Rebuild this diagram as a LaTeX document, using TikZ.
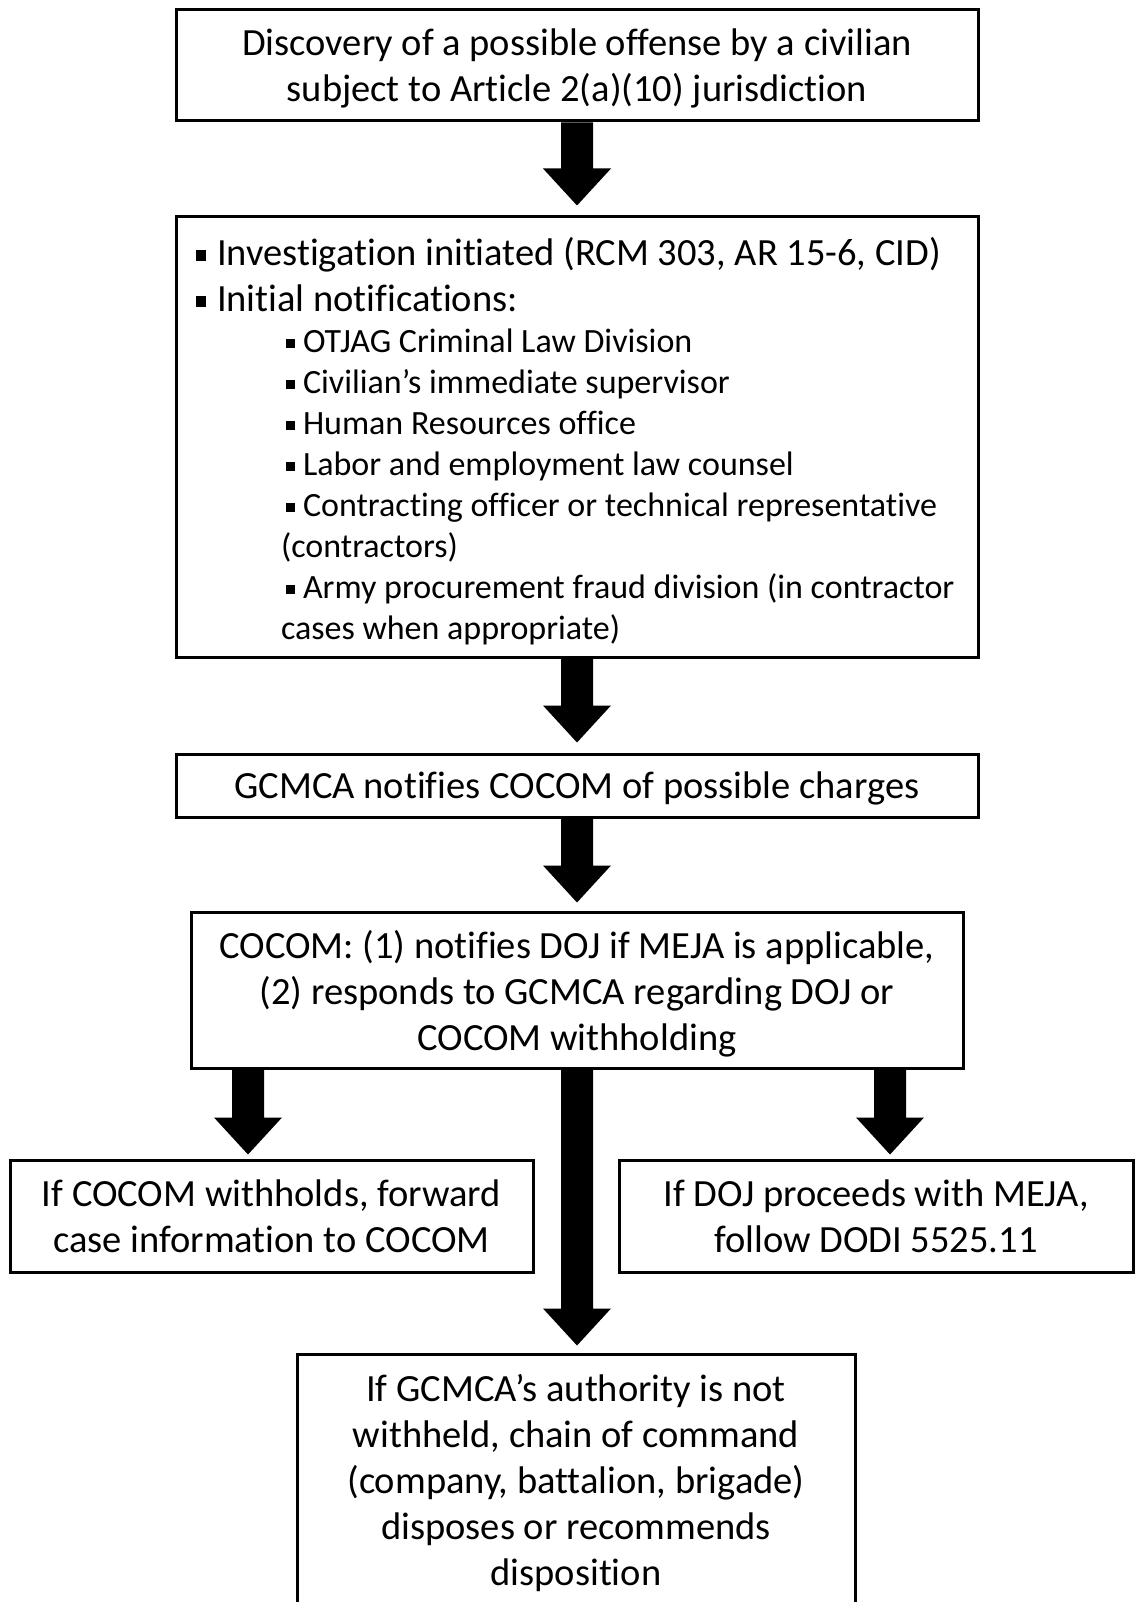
\documentclass[tikz,border=0pt]{standalone}
\usepackage{fontspec}
\setmainfont[Ligatures={NoCommon}]{Carlito}
\usetikzlibrary{calc}
\newcommand\mbul{\raisebox{0.12em}{\rule{0.27em}{0.27em}}}
% #1 = x of arrow, #2 = source anchor, #3 = target anchor, #4 = gap before target
\newcommand\fatarrow[4]{%
  \fill let \p1=(#2), \p2=(#3) in
   (#1pt-16pt,\y1) -- (#1pt+16pt,\y1) -- (#1pt+16pt,\y2+#4pt+37pt)
   -- (#1pt+34pt,\y2+#4pt+37pt) -- (#1pt,\y2+#4pt) -- (#1pt-34pt,\y2+#4pt+37pt)
   -- (#1pt-16pt,\y2+#4pt+37pt) -- cycle;}
\begin{document}
\begin{tikzpicture}[x=1pt,y=-1pt,
  boxbase/.style={draw, line width=3pt, inner sep=0pt, align=center,
    font=\fontsize{38.5pt}{46pt}\selectfont},
  box/.style={boxbase, text depth=0pt}]
\useasboundingbox (0,0) rectangle (1135,1602);
\node[box, minimum width=802pt, minimum height=111pt] (b1) at (577,65.5)
  {Discovery of a possible offense by a civilian\\subject to Article 2(a)(10) jurisdiction};
\node[boxbase, align=left, minimum width=802pt, minimum height=440pt] (b2) at (577,437)
  {\begin{minipage}{762pt}\parindent=0pt
   \vspace*{8pt}
   \fontsize{38.5pt}{46pt}\selectfont
   \makebox[21pt][l]{\mbul}Investigation initiated (RCM 303, AR 15-6, CID)\par
   \makebox[21pt][l]{\mbul}Initial notifications:\par
   \fontsize{34pt}{41pt}\selectfont
   \hspace*{90pt}\makebox[17pt][l]{\mbul}OTJAG Criminal Law Division\par
   \hspace*{90pt}\makebox[17pt][l]{\mbul}Civilian’s immediate supervisor\par
   \hspace*{90pt}\makebox[17pt][l]{\mbul}Human Resources office\par
   \hspace*{90pt}\makebox[17pt][l]{\mbul}Labor and employment law counsel\par
   \hspace*{90pt}\makebox[17pt][l]{\mbul}Contracting officer or technical representative\par
   \hspace*{85pt}(contractors)\par
   \hspace*{90pt}\makebox[17pt][l]{\mbul}Army procurement fraud division (in contractor\par
   \hspace*{85pt}cases when appropriate)\par
   \end{minipage}};
\node[box, minimum width=802pt, minimum height=63pt] (b3) at (577,785.5)
  {GCMCA notifies COCOM of possible charges};
\node[box, minimum width=772pt, minimum height=156pt] (b4) at (577,990)
  {COCOM: (1) notifies DOJ if MEJA is applicable,\\(2) responds to GCMCA regarding DOJ or\\COCOM withholding};
\node[box, minimum width=523pt, minimum height=112pt] (b5) at (271.5,1216)
  {If COCOM withholds, forward\\case information to COCOM};
\node[box, minimum width=514pt, minimum height=112pt] (b6) at (876,1216)
  {If DOJ proceeds with MEJA,\\follow DODI 5525.11};
\node[boxbase, minimum width=558pt, minimum height=258pt] (b7) at (576,1483)
  {If GCMCA’s authority is not\\withheld, chain of command\\(company, battalion, brigade)\\disposes or recommends\\disposition};
\fatarrow{577}{b1.south}{b2.north}{10}
\fatarrow{577}{b2.south}{b3.north}{10}
\fatarrow{577}{b3.south}{b4.north}{8}
\fatarrow{248}{b4.south}{b5.north}{4}
\fatarrow{890}{b4.south}{b6.north}{4}
\fatarrow{577}{b4.south}{b7.north}{7}
\end{tikzpicture}
\end{document}
